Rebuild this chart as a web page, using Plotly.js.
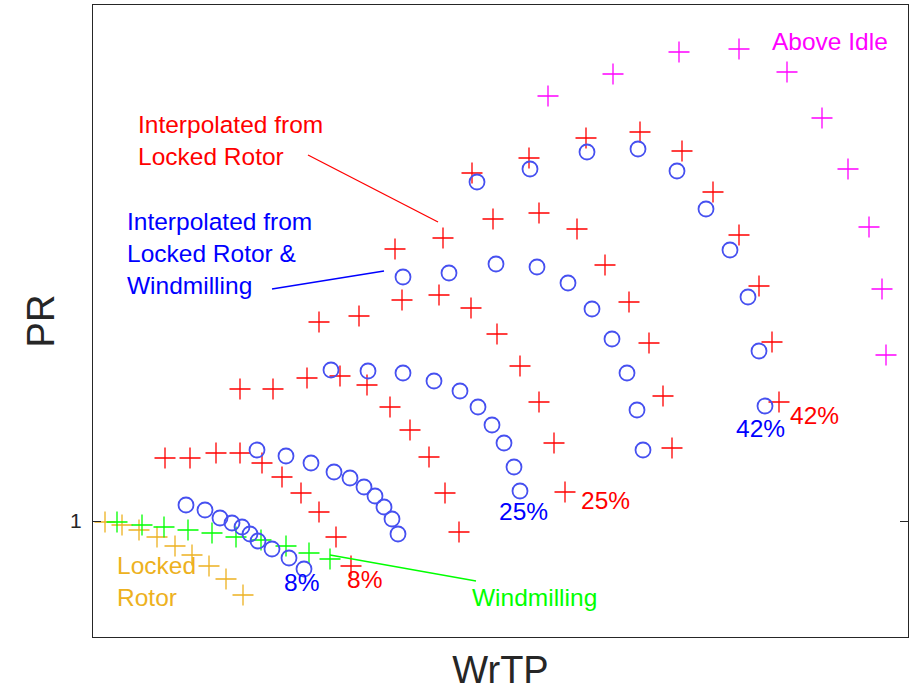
<!DOCTYPE html>
<html>
<head>
<meta charset="utf-8">
<script src="https://cdn.plot.ly/plotly-3.0.1.min.js"></script>
<style>html,body{margin:0;padding:0;background:#fff;}#chart{width:912px;height:694px;}</style>
</head>
<body>
<div id="chart"></div>
<script>
// Interpolated from Locked Rotor & Windmilling (blue circles), five speed lines
const blue8x  = [0.93, 1.12, 1.27, 1.39, 1.49, 1.57, 1.65, 1.79, 1.96, 2.11];
const blue8y  = [1.032, 1.022, 1.006, 0.996, 0.988, 0.974, 0.960, 0.944, 0.926, 0.904];
const blueBx  = [1.64, 1.93, 2.18, 2.41, 2.57, 2.71, 2.82, 2.91, 2.99, 3.05];
const blueBy  = [1.142, 1.130, 1.116, 1.098, 1.086, 1.068, 1.050, 1.028, 1.004, 0.974];
const blue25x = [2.38, 2.75, 3.10, 3.41, 3.67, 3.85, 3.99, 4.11, 4.21, 4.27];
const blue25y = [1.302, 1.300, 1.296, 1.280, 1.260, 1.228, 1.192, 1.156, 1.108, 1.060];
const blueDx  = [3.10, 3.56, 4.03, 4.44, 4.75, 4.99, 5.19, 5.34, 5.44, 5.50];
const blueDy  = [1.488, 1.496, 1.514, 1.508, 1.476, 1.424, 1.364, 1.296, 1.222, 1.142];
const blue42x = [3.84, 4.37, 4.94, 5.45, 5.84, 6.13, 6.37, 6.55, 6.66, 6.72];
const blue42y = [1.678, 1.704, 1.738, 1.744, 1.700, 1.624, 1.542, 1.448, 1.340, 1.230];

// Interpolated from Locked Rotor (red crosses), five speed lines
const red8x  = [0.72, 0.97, 1.23, 1.47, 1.69, 1.89, 2.08, 2.26, 2.43, 2.58];
const red8y  = [1.126, 1.126, 1.136, 1.136, 1.116, 1.088, 1.056, 1.018, 0.968, 0.910];
const redBx  = [1.47, 1.80, 2.14, 2.47, 2.74, 2.97, 3.17, 3.36, 3.52, 3.66];
const redBy  = [1.264, 1.264, 1.286, 1.290, 1.272, 1.228, 1.182, 1.128, 1.056, 0.978];
const red25x = [2.26, 2.66, 3.09, 3.46, 3.78, 4.04, 4.27, 4.46, 4.61, 4.72];
const red25y = [1.398, 1.410, 1.442, 1.452, 1.426, 1.374, 1.310, 1.238, 1.156, 1.058];
const redDx  = [3.02, 3.50, 4.00, 4.46, 4.84, 5.12, 5.36, 5.56, 5.70, 5.79];
const redDy  = [1.544, 1.566, 1.604, 1.616, 1.584, 1.512, 1.438, 1.356, 1.250, 1.146];
const red42x = [3.79, 4.36, 4.93, 5.47, 5.89, 6.20, 6.46, 6.66, 6.79, 6.86];
const red42y = [1.696, 1.726, 1.766, 1.778, 1.740, 1.658, 1.572, 1.470, 1.358, 1.238];

// Above Idle (magenta)
const idleX = [4.55, 5.20, 5.86, 6.46, 6.94, 7.29, 7.55, 7.76, 7.89, 7.93];
const idleY = [1.850, 1.894, 1.938, 1.944, 1.898, 1.806, 1.704, 1.588, 1.464, 1.332];

// Windmilling (green)
const windX = [0.24, 0.49, 0.71, 0.95, 1.19, 1.43, 1.68, 1.93, 2.16, 2.37];
const windY = [0.998, 0.992, 0.988, 0.982, 0.976, 0.968, 0.962, 0.950, 0.936, 0.924];

// Locked Rotor (orange)
const lockX = [0.12, 0.29, 0.46, 0.64, 0.82, 0.99, 1.16, 1.33, 1.50];
const lockY = [0.998, 0.992, 0.982, 0.968, 0.950, 0.932, 0.910, 0.884, 0.852];

const yTickVals = [1];
const yTickText = ['1'];

const FONT = 'Liberation Sans, Arial, Helvetica, sans-serif';
const BLUE_M = 'rgb(70,80,240)';
const RED = '#ff0000', BLUE = '#0000ff', GREEN = '#00ff00', MAG = '#ff00ff', ORANGE = '#EDB120';

function crosses(x, y, color) {
  return {x: x, y: y, type: 'scatter', mode: 'markers', hoverinfo: 'skip',
    marker: {symbol: 'cross-thin-open', size: 15, color: color, line: {color: color, width: 1.3}}};
}
function circles(x, y) {
  return {x: x, y: y, type: 'scatter', mode: 'markers', hoverinfo: 'skip',
    marker: {symbol: 'circle-open', size: 15, color: BLUE_M, line: {color: BLUE_M, width: 1.8}}};
}

const data = [
  crosses(lockX, lockY, ORANGE),
  crosses(windX, windY, GREEN),
  crosses(red8x, red8y, RED), crosses(redBx, redBy, RED), crosses(red25x, red25y, RED),
  crosses(redDx, redDy, RED), crosses(red42x, red42y, RED),
  circles(blue8x, blue8y), circles(blueBx, blueBy), circles(blue25x, blue25y),
  circles(blueDx, blueDy), circles(blue42x, blue42y),
  crosses(idleX, idleY, MAG)
];

function note(text, x, y, color) {
  return {text: text, x: x, y: y, xref: 'x', yref: 'y', xanchor: 'left', yanchor: 'middle',
    showarrow: false, align: 'left', borderpad: 0, borderwidth: 0,
    font: {family: FONT, size: 24.5, color: color}};
}

const annotations = [
  note('Interpolated from<br>Locked Rotor', 0.45, 1.762, RED),
  note('Interpolated from<br>Locked Rotor &amp;<br>Windmilling', 0.34, 1.536, BLUE),
  note('Above Idle', 6.79, 1.96, MAG),
  note('Windmilling', 3.79, 0.848, GREEN),
  note('Locked<br>Rotor', 0.24, 0.88, ORANGE),
  note('8%', 1.91, 0.878, BLUE),
  note('8%', 2.54, 0.884, RED),
  note('25%', 4.06, 1.02, BLUE),
  note('25%', 4.88, 1.042, RED),
  note('42%', 6.43, 1.186, BLUE),
  note('42%', 6.97, 1.212, RED)
];

const shapes = [
  {type: 'line', xref: 'x', yref: 'y', x0: 2.15, y0: 1.732, x1: 3.45, y1: 1.598, line: {color: RED, width: 1.3}},
  {type: 'line', xref: 'x', yref: 'y', x0: 1.79, y0: 1.464, x1: 2.91, y1: 1.500, line: {color: BLUE, width: 1.3}},
  {type: 'line', xref: 'x', yref: 'y', x0: 2.37, y0: 0.932, x1: 3.83, y1: 0.880, line: {color: GREEN, width: 1.3}}
];

const layout = {
  width: 912, height: 694,
  margin: {l: 93, r: 4, t: 5, b: 57},
  paper_bgcolor: '#fff', plot_bgcolor: '#fff',
  showlegend: false,
  font: {family: FONT, color: '#262626'},
  xaxis: {
    range: [0, 8.15], showgrid: false, zeroline: false, showticklabels: false, ticks: '',
    showline: true, mirror: true, linecolor: '#262626', linewidth: 1.2,
    title: {text: 'WrTP', font: {family: FONT, size: 38, color: '#262626'}, standoff: 19}
  },
  yaxis: {
    range: [0.768, 2.032], showgrid: false, zeroline: false,
    tickvals: yTickVals, ticktext: yTickText, ticks: 'inside', ticklen: 8, tickcolor: '#262626',
    tickfont: {family: FONT, size: 21, color: '#262626'}, ticklabelstandoff: 6,
    showline: true, mirror: 'ticks', linecolor: '#262626', linewidth: 1.2,
    title: {text: 'PR', font: {family: FONT, size: 38, color: '#262626'}, standoff: 3}
  },
  annotations: annotations,
  shapes: shapes
};

Plotly.newPlot('chart', data, layout, {displayModeBar: false, staticPlot: true});
</script>
</body>
</html>
